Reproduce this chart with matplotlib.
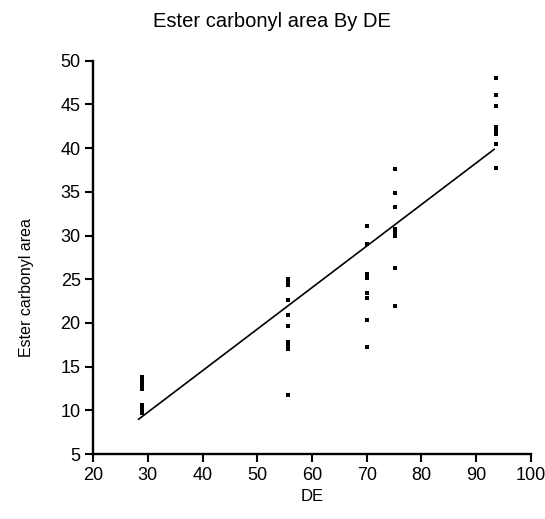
import matplotlib
matplotlib.use("Agg")
import matplotlib.pyplot as plt
import numpy as np

plt.rcParams['font.family'] = ['Liberation Sans', 'DejaVu Sans']

de_values = [28.9, 55.7, 70.0, 75.2, 93.7]
area_de29 = [13.8, 13.5, 13.2, 12.9, 12.5, 10.6, 10.3, 10.0, 9.7]
area_de56 = [25.0, 24.7, 24.4, 22.6, 20.9, 19.7, 17.8, 17.4, 17.0, 11.8]
area_de70 = [31.1, 29.0, 25.6, 25.2, 23.4, 22.9, 20.3, 17.3]
area_de75 = [37.6, 34.9, 33.3, 30.8, 30.3, 29.9, 26.3, 21.9]
area_de94 = [48.0, 46.1, 44.8, 42.4, 42.0, 41.6, 40.5, 37.7]
groups = [area_de29, area_de56, area_de70, area_de75, area_de94]

# fitted line
fit_slope = 0.475
fit_intercept = -4.45
fit_x_range = [28.3, 93.3]

x_ticks = [20, 30, 40, 50, 60, 70, 80, 90, 100]
y_ticks = [5, 10, 15, 20, 25, 30, 35, 40, 45, 50]

xs = np.concatenate([[d] * len(g) for d, g in zip(de_values, groups)])
ys = np.concatenate(groups)

fig = plt.figure(figsize=(5.45, 5.19), dpi=100)
ax = fig.add_axes([0.171, 0.125, 0.803, 0.758])

ax.plot(xs, ys, 's', color='black', markersize=2.7, markeredgewidth=0)

xl = np.array(fit_x_range)
ax.plot(xl, fit_slope * xl + fit_intercept, color='black', linewidth=1.2)

ax.set_xlim(20, 100)
ax.set_ylim(5, 50)
ax.set_xticks(x_ticks)
ax.set_yticks(y_ticks)
ax.spines['top'].set_visible(False)
ax.spines['right'].set_visible(False)
ax.spines['left'].set_linewidth(1.7)
ax.spines['bottom'].set_linewidth(1.7)
ax.tick_params(axis='both', direction='out', length=6, width=1.5, labelsize=13, pad=3)

ax.set_xlabel('DE', fontsize=12, labelpad=4)
fig.text(27 / 545, 1 - 288 / 519, 'Ester carbonyl area', rotation=90,
         ha='center', va='center', fontsize=11.5)
fig.text(272 / 545, 1 - 22 / 519, 'Ester carbonyl area By DE', ha='center', va='center', fontsize=14.5)

fig.savefig('out.png', dpi=100)
